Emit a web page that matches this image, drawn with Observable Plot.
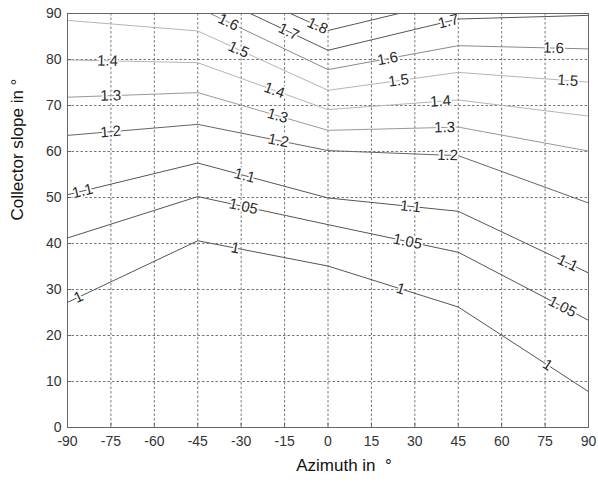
<!DOCTYPE html>
<html>
<head>
<meta charset="utf-8">
<script src="https://cdn.jsdelivr.net/npm/d3@7"></script>
<script src="https://cdn.jsdelivr.net/npm/@observablehq/plot@0.6"></script>
<style>
  html, body { margin: 0; padding: 0; background: #fff; }
  #chart svg { display: block; }
</style>
</head>
<body>
<div id="chart"></div>
<script>
// Azimuth grid where the contour vertices were computed
const azimuths = [-90, -45, 0, 45, 90];
// Contour levels
const levels = [1, 1.05, 1.1, 1.2, 1.3, 1.4, 1.5, 1.6, 1.7, 1.8];
// Collector slope (deg) of each contour at the azimuths above
const slope_1_00 = [27.2, 40.6, 35.1, 26.2, 7.8];
const slope_1_05 = [41.2, 50.2, 44.1, 38.1, 23.3];
const slope_1_10 = [50.6, 57.5, 49.9, 47.0, 33.6];
const slope_1_20 = [63.5, 65.9, 60.2, 59.1, 48.8];
const slope_1_30 = [71.8, 72.8, 64.6, 65.3, 60.1];
const slope_1_40 = [79.9, 79.3, 69.1, 71.2, 67.7];
const slope_1_50 = [88.5, 86.2, 73.3, 77.2, 75.1];
const slope_1_60 = [93.0, 91.3, 77.8, 83.0, 82.3];
const slope_1_70 = [98.0, 95.4, 82.0, 88.8, 89.6];
const slope_1_80 = [104.0, 99.1, 86.3, 93.1, 96.0];
const slopes = [slope_1_00, slope_1_05, slope_1_10, slope_1_20, slope_1_30,
                slope_1_40, slope_1_50, slope_1_60, slope_1_70, slope_1_80];
// Gray shade of each contour line
const lineColors = ["#555", "#555", "#555", "#666", "#999", "#b5b5b5", "#b5b5b5", "#888", "#555", "#555"];

// Contour label placements: level and azimuth
const labelLevels   = [1.6, 1.7, 1.8, 1.5, 1.4, 1.3, 1.2, 1.1, 1.05, 1.4, 1.3, 1.2, 1.1, 1, 1,
                       1.7, 1.6, 1.6, 1.5, 1.5, 1.4, 1.3, 1.2, 1.1, 1.05, 1.1, 1.05, 1, 1];
const labelAzimuths = [-34.4, -13.6, -3.6, -30.9, -76.2, -75.1, -75.1, -84.8, -29.2, -18.5, -17.4, -17.1, -28.8, -86.2, -32.0,
                       41.6, 20.6, 77.9, 24.4, 82.8, 38.9, 40.3, 41.3, 28.5, 27.5, 82.8, 81.0, 25.1, 75.9];

// x and y tick values
const xTicks = d3.range(-90, 91, 15);
const yTicks = d3.range(0, 91, 10);

const W = 598, H = 485;
const mL = 67, mR = 10, mT = 13, mB = 58;
const pxPerX = (W - mL - mR) / 180;
const pxPerY = (H - mT - mB) / 90;

// Build line table
const lineRows = [];
levels.forEach((lv, i) => {
  azimuths.forEach((az, j) => lineRows.push({level: lv, az, slope: slopes[i][j], color: lineColors[i]}));
});

function interp(lv, az) {
  const s = slopes[levels.indexOf(lv)];
  let j = 0;
  while (j < azimuths.length - 2 && az > azimuths[j + 1]) j++;
  const t = (az - azimuths[j]) / (azimuths[j + 1] - azimuths[j]);
  const y = s[j] + t * (s[j + 1] - s[j]);
  const k = (s[j + 1] - s[j]) / (azimuths[j + 1] - azimuths[j]);
  return {y, k};
}
const labelRows = labelLevels.map((lv, i) => {
  const az = labelAzimuths[i];
  const {y, k} = interp(lv, az);
  const ang = -Math.atan2(k * pxPerY, pxPerX) * 180 / Math.PI;
  return {level: lv, az, slope: y, text: String(lv), rotate: ang};
});

const font = "'Liberation Sans', Arial, Helvetica, sans-serif";
const fmt = d => String(d);

const chart = Plot.plot({
  width: W,
  height: H,
  marginLeft: mL,
  marginRight: mR,
  marginTop: mT,
  marginBottom: mB,
  style: {fontFamily: font, background: "#fff"},
  x: {domain: [-90, 90]},
  y: {domain: [0, 90]},
  marks: [
    Plot.gridX(xTicks, {stroke: "#777", strokeOpacity: 1, strokeDasharray: "2.5,2"}),
    Plot.gridY(yTicks, {stroke: "#777", strokeOpacity: 1, strokeDasharray: "2.5,2"}),
    Plot.line(lineRows, {x: "az", y: "slope", z: "level", stroke: "color", strokeWidth: 1, clip: "frame"}),
    Plot.text(labelRows, {x: "az", y: "slope", text: "text", rotate: "rotate",
      fill: "#2a2a2a", stroke: "white", strokeWidth: 3.5, fontSize: 15, fontFamily: font}),
    Plot.frame({stroke: "#666"}),
    Plot.axisX(xTicks, {tickSize: -4, tickPadding: 13, fontSize: 14, color: "#333", stroke: "#666", label: null, tickFormat: fmt, fontFamily: font}),
    Plot.axisY(yTicks, {tickSize: -4, tickPadding: 10, fontSize: 14, color: "#333", stroke: "#666", label: null, tickFormat: fmt, fontFamily: font}),
    Plot.text(["Azimuth in\u00a0\u00a0°"], {frameAnchor: "bottom", dy: 43, dx: 16, fontSize: 17, fill: "#111", fontFamily: font}),
    Plot.text(["Collector slope in\u00a0°"], {frameAnchor: "left", dx: -50, rotate: -90, fontSize: 17, fill: "#111", fontFamily: font})
  ]
});
document.getElementById("chart").append(chart);
</script>
</body>
</html>
